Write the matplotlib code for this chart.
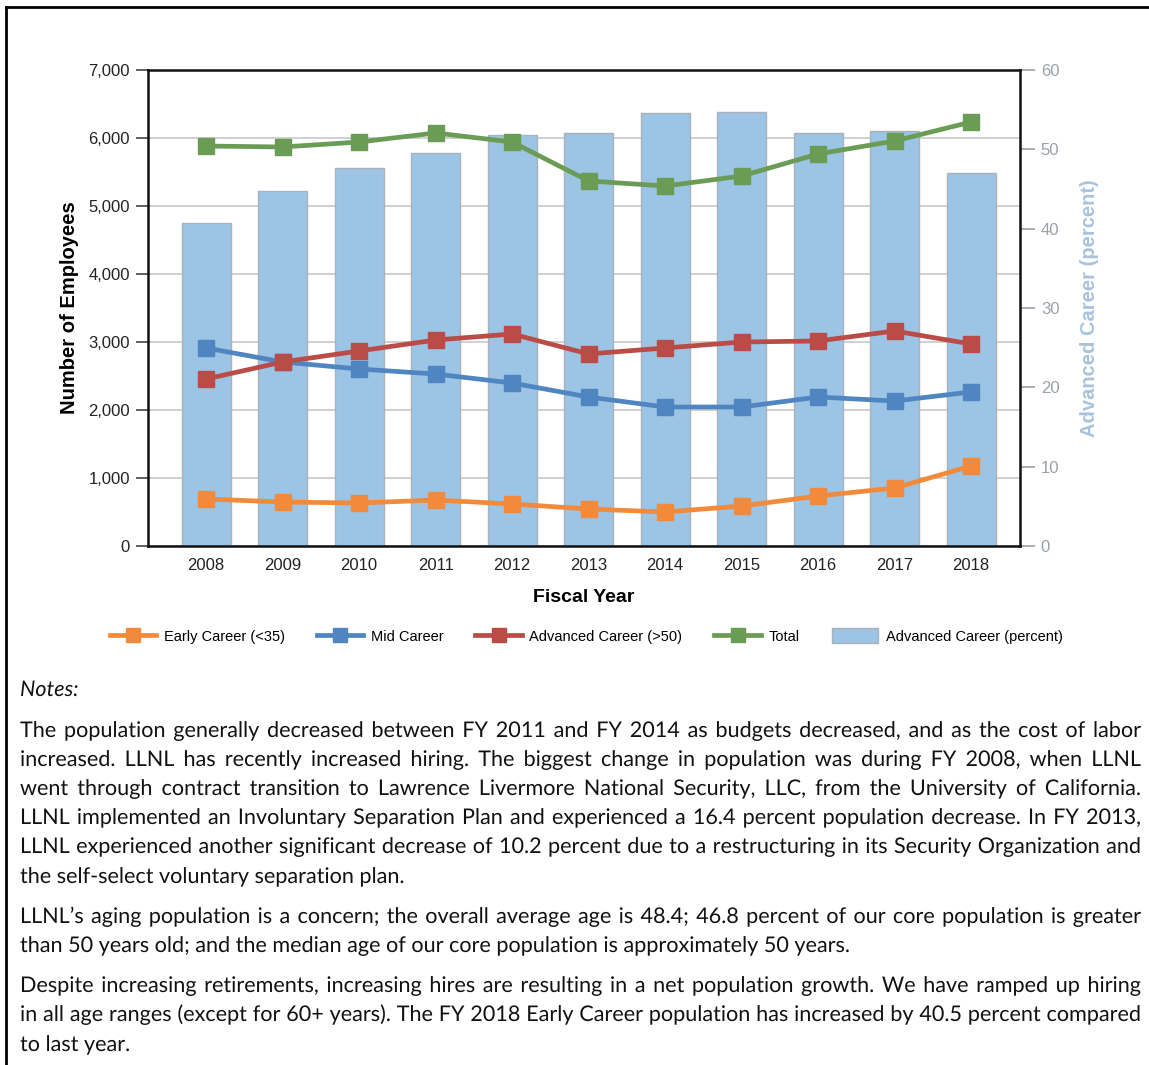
import matplotlib
matplotlib.use("Agg")
import matplotlib.pyplot as plt
from matplotlib.lines import Line2D
from matplotlib.patches import Patch, PathPatch
from matplotlib.textpath import TextPath
from matplotlib.font_manager import FontProperties
from matplotlib.transforms import Affine2D, IdentityTransform
import numpy as np

years = ['2008', '2009', '2010', '2011', '2012', '2013', '2014', '2015', '2016', '2017', '2018']
early = [691, 647, 632, 676, 618, 544, 500, 588, 735, 853, 1176]
mid = [2912, 2706, 2603, 2529, 2397, 2191, 2044, 2044, 2191, 2132, 2265]
advanced = [2456, 2706, 2868, 3029, 3118, 2824, 2912, 3000, 3015, 3162, 2971]
total = [5882, 5868, 5941, 6074, 5941, 5368, 5294, 5441, 5765, 5956, 6235]
adv_pct = [40.7, 44.75, 47.65, 49.5, 51.8, 52.06, 54.6, 54.7, 52.06, 52.3, 47.0]

left_ticks = [0, 1000, 2000, 3000, 4000, 5000, 6000, 7000]
right_ticks = [0, 10, 20, 30, 40, 50, 60]

notes_title = "Notes:"
paragraphs = [
    ["The population generally decreased between FY 2011 and FY 2014 as budgets decreased, and as the cost of labor",
     "increased. LLNL has recently increased hiring.  The biggest change in population was during FY 2008, when LLNL",
     "went through contract transition to Lawrence Livermore National Security, LLC, from the University of California.",
     "LLNL implemented an Involuntary Separation Plan and experienced a 16.4 percent population decrease.  In FY 2013,",
     "LLNL experienced another significant decrease of 10.2 percent due to a restructuring in its Security Organization and",
     "the self-select voluntary separation plan."],
    ["LLNL\u2019s aging population is a concern; the overall average age is 48.4; 46.8 percent of our core population is greater",
     "than 50 years old; and the median age of our core population is approximately 50 years."],
    ["Despite increasing retirements, increasing hires are resulting in a net population growth.  We have ramped up hiring",
     "in all age ranges (except for 60+ years).  The FY 2018 Early Career population has increased by 40.5 percent compared",
     "to last year."],
]

W, H = 1149, 1065
fig = plt.figure(figsize=(W / 100, H / 100), dpi=100)
plt.rcParams['font.family'] = ['Liberation Sans', 'DejaVu Sans']

def fx(px):
    return px / W

def fy(py):
    return 1 - py / H

pos = [fx(148), fy(546), fx(1020) - fx(148), fy(70) - fy(546)]

ax = fig.add_axes(pos)
ax2 = ax.twinx()
ax3 = fig.add_axes(pos, sharex=ax, sharey=ax)

x = np.arange(len(years))

ax.set_ylim(0, 7000)
ax.set_xlim(-0.76, 10.64)
ax.set_yticks(left_ticks)
ax.set_yticklabels([f"{v:,}" for v in left_ticks], fontsize=12, color='#222222')
ax.yaxis.grid(True, color='#c4c4c4', linewidth=1.1)
ax.set_axisbelow(True)
ax.tick_params(axis='y', length=9, width=1.2, color='#444444', pad=4)
ax.set_xticks(x)
ax.set_xticklabels(years, fontsize=12, color='#222222')
ax.tick_params(axis='x', length=0, pad=9)
for s in ax.spines.values():
    s.set_visible(False)
ax.set_ylabel("Number of Employees", fontsize=14.5, fontweight='bold', labelpad=7)
ax.set_xlabel("Fiscal Year", fontsize=14, fontweight='bold', labelpad=11)

ax2.bar(x, adv_pct, width=0.64, color='#9cc4e4', edgecolor='#a9b2ba', linewidth=1.0, zorder=2)
ax2.set_ylim(0, 60)
ax2.set_yticks(right_ticks)
ax2.set_yticklabels([str(v) for v in right_ticks], fontsize=12, color='#9aa1a8')
ax2.tick_params(axis='y', length=11, width=1.2, color='#9aa1a8', pad=4)
ax2.patch.set_visible(False)
for s in ax2.spines.values():
    s.set_visible(False)
ax2.set_ylabel("Advanced Career (percent)", fontsize=14.5, fontweight='bold', color='#a8c3dc', labelpad=15)

ax3.patch.set_visible(False)
ax3.tick_params(left=False, bottom=False, labelleft=False, labelbottom=False)
for s in ax3.spines.values():
    s.set_color('#111111')
    s.set_linewidth(1.8)
series = [
    ("Early Career (<35)", early, '#f28a3c'),
    ("Mid Career", mid, '#4f86c2'),
    ("Advanced Career (>50)", advanced, '#bb4b46'),
    ("Total", total, '#6a9c56'),
]
handles = []
for name, vals, col in series:
    ax3.plot(x, vals, color=col, linewidth=3.4, marker='s', markersize=11, zorder=3)
    handles.append(Line2D([0], [0], color=col, linewidth=3.4, marker='s', markersize=10, label=name))
handles.append(Patch(facecolor='#9cc4e4', edgecolor='#a9b2ba', linewidth=1.0, label="Advanced Career (percent)"))

fig.legend(handles=handles, loc='center', bbox_to_anchor=(fx(586), fy(636)), ncol=5, frameon=False,
           fontsize=10.5, handlelength=3.2, handleheight=1.2, columnspacing=2.2, handletextpad=0.5)

fig.add_artist(Line2D([fx(6), fx(6)], [fy(7), 0], color='black', linewidth=2, transform=fig.transFigure))
fig.add_artist(Line2D([fx(6), 1], [fy(7), fy(7)], color='black', linewidth=2, transform=fig.transFigure))

# notes (drawn as text paths so all words share one exact baseline)
prop = FontProperties(family='Lato')
prop_it = FontProperties(family='Lato', style='italic')
x_left, x_right = 20, 1141
line_y = [[731, 760, 789, 818, 847, 877], [917, 946], [986, 1015, 1045]]


def adv_width(word, size_px, fp=prop):
    # advance width via path of word plus a bar sentinel
    tp1 = TextPath((0, 0), word + "|", size=size_px, prop=fp)
    tp2 = TextPath((0, 0), "|", size=size_px, prop=fp)
    return tp1.get_extents().x1 - tp2.get_extents().x1


def draw_word(word, xpx, ypx, size_px, fp=prop):
    tp = TextPath((0, 0), word, size=size_px, prop=fp)
    tr = Affine2D().translate(xpx, H - ypx)
    patch = PathPatch(tp, transform=tr + IdentityTransform(), facecolor='#111111', edgecolor='none', lw=0)
    fig.add_artist(patch)

base = 19.0
space_w = adv_width("a a", base) - adv_width("aa", base)
maxw = 0
for para in paragraphs:
    for ln in para[:-1]:
        words = ln.split()
        ww = sum(adv_width(w, base) for w in words) + space_w * (len(words) - 1)
        maxw = max(maxw, ww)
size_px = base * (x_right - x_left) / maxw * 0.995
space_w = adv_width("a a", size_px) - adv_width("aa", size_px)

draw_word(notes_title, 20, 696, size_px, prop_it)

for para, ys in zip(paragraphs, line_y):
    for i, (ln, yy) in enumerate(zip(para, ys)):
        words = ln.split()
        widths = [adv_width(w, size_px) for w in words]
        last = (i == len(para) - 1)
        if last or len(words) == 1:
            gap = space_w
        else:
            gap = ((x_right - x_left) - sum(widths)) / (len(words) - 1)
        cx = x_left
        for w, wd in zip(words, widths):
            draw_word(w, cx, yy + 6, size_px)
            cx += wd + gap

fig.savefig("out.png", dpi=100)
